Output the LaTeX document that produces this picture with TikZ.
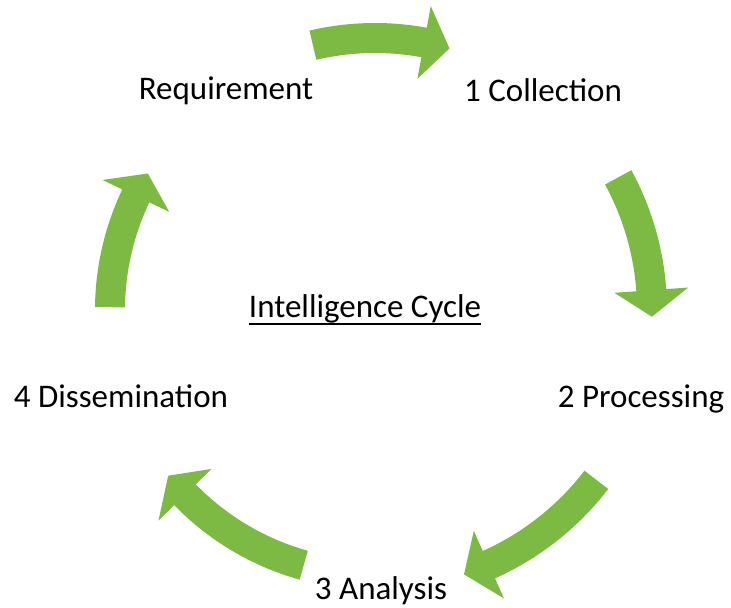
\documentclass[tikz,border=0pt]{standalone}
\usepackage{fontspec}
\setmainfont{Carlito}
\usepackage{tikz}
\definecolor{cyclegreen}{RGB}{125,186,68}

\begin{document}
\begin{tikzpicture}[x=0.5pt,y=0.5pt,
    stage/.style={inner sep=0pt,anchor=base,font=\fontsize{16.5}{20}\selectfont},
    cyclearrow/.style={fill=cyclegreen}]
  \useasboundingbox (-375,-298) rectangle (356,310);

  % the five curved arrows round the centre
  \foreach \tail/\tip/\rad in {103.2/74.1/272, 28.6/-1.4/277, -37.5/-71.4/279,
      -105.6/-141.3/265, 179.4/149/265}{
    \pgfmathsetmacro\base{\tip+5.5}
    \pgfmathsetmacro\rin{\rad-15}
    \pgfmathsetmacro\rout{\rad+15}
    \pgfmathsetmacro\hin{\rad-37}
    \pgfmathsetmacro\hout{\rad+37}
    \fill[cyclearrow] (\tail:\rin) arc[start angle=\tail, end angle=\base, radius=\rin]
      -- (\base:\hin) -- (\tip:\rad) -- (\base:\hout) -- (\base:\rout)
      arc[start angle=\base, end angle=\tail, radius=\rout] -- cycle;
  }

  \node[stage] (req) at (-149,210) {Requirement};
  \node[stage] (coll) at (168,208) {1 Collection};
  \node[stage] (proc) at (266,-98) {2 Processing};
  \node[stage] (anal) at (6,-289) {3 Analysis};
  \node[stage] (diss) at (-254,-98) {4 Dissemination};

  \node[stage] (title) at (-10,-8) {Intelligence Cycle};
  \draw[line width=1pt] ([yshift=-3pt]title.base west) -- ([yshift=-3pt]title.base east);
\end{tikzpicture}
\end{document}
